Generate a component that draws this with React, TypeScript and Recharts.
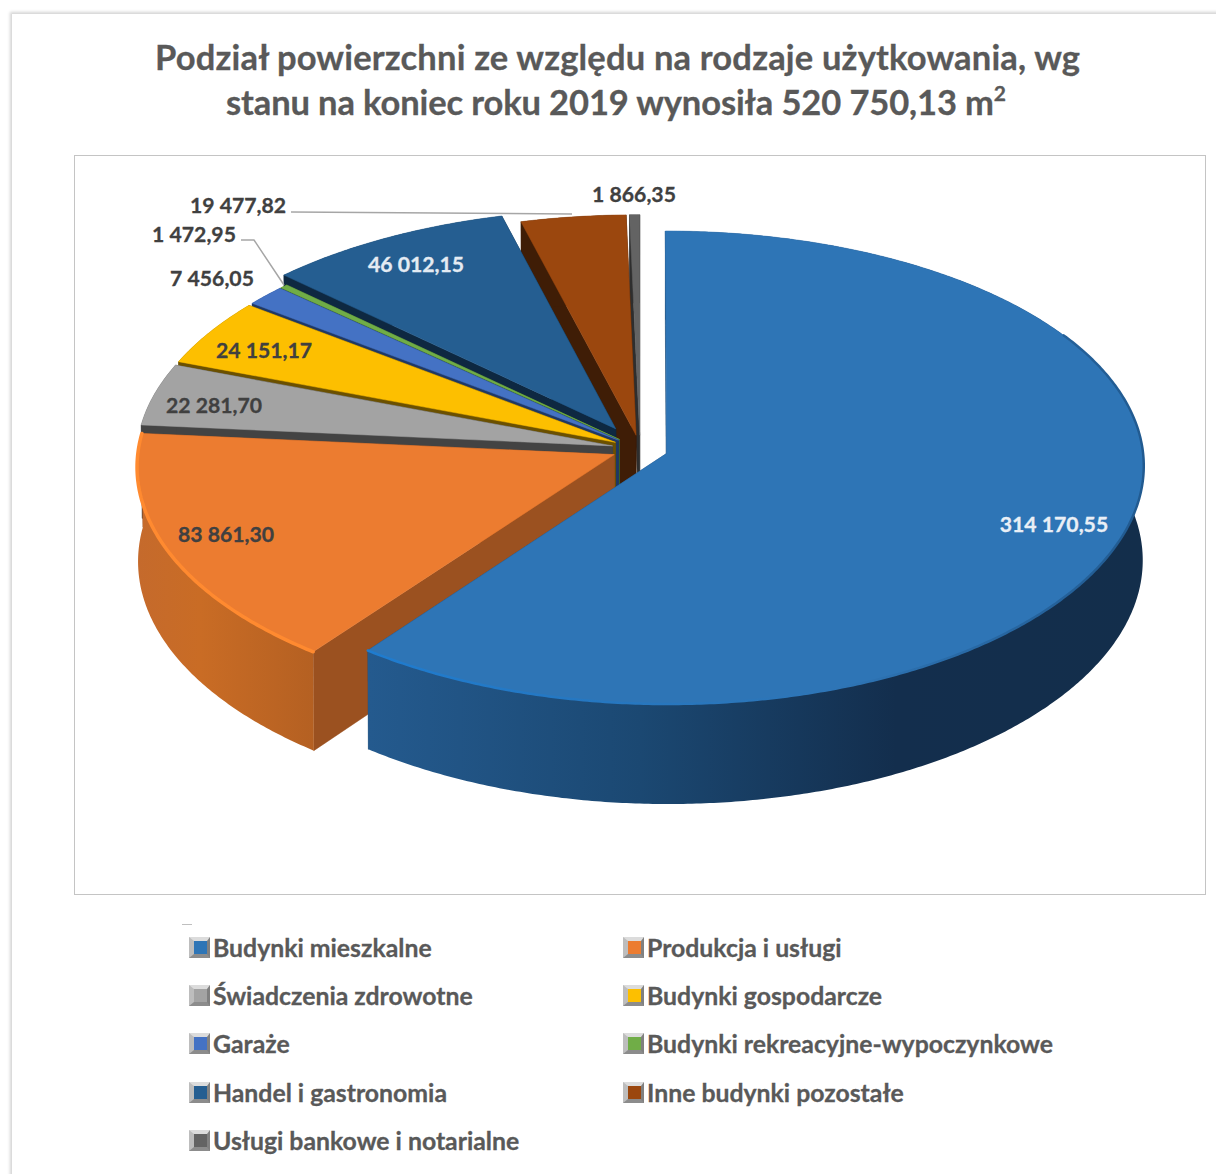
import React from "react";
import { PieChart, Pie, Legend } from "recharts";

const CATEGORIES = [
  "Budynki mieszkalne",
  "Produkcja i usługi",
  "Świadczenia zdrowotne",
  "Budynki gospodarcze",
  "Garaże",
  "Budynki rekreacyjne-wypoczynkowe",
  "Handel i gastronomia",
  "Inne budynki pozostałe",
  "Usługi bankowe i notarialne",
];
const VALUES = [314170.55, 83861.3, 22281.7, 24151.17, 7456.05, 1472.95, 46012.15, 19477.82, 1866.35];
const TOP_COLORS = ["#2e75b6", "#ec7c30", "#a3a3a3", "#fdbf00", "#4472c4", "#70ad47", "#255e91", "#9b470e", "#636363"];
const WALL_COLORS = ["#1d4a75", "#9b5120", "#434343", "#6b5000", "#1f3864", "#3c6324", "#0e2841", "#3f1d06", "#2e2e2e"];
const LABEL_COLORS = ["#e9eff6", "#404040", "#404040", "#404040", "#404040", "#404040", "#e4ebf3", "#404040", "#404040"];
const LABEL_CENTERS = [[1054, 524], [226, 534], [214, 405], [264, 350], [212, 278], [194, 234], [416, 264], [238, 205], [634, 194]];
const EXPLOSIONS = [0.059, 0.059, 0.059, 0.059, 0.059, 0.059, 0.1, 0.059, 0.059];

const TITLE_LINES = [
  "Podział powierzchni ze względu na rodzaje użytkowania, wg",
  "stanu na koniec roku 2019 wynosiła 520 750,13 m",
];
const TITLE_SUP = "2";

const FONT = "Lato, 'Open Sans', sans-serif";
const TILT = 0.494;
const PERSPECTIVE_Y = 0.0594;
const PERSPECTIVE_X = 0.05;
const DEPTH = 94;

// drawn back to front: the pie walks counter-clockwise from 12 o'clock, so the last slice is painted first
const rows = CATEGORIES.map((name, i) => ({ name, value: VALUES[i], fill: TOP_COLORS[i], order: i })).reverse();

const formatValue = (v: number) => {
  const [a, b] = v.toFixed(2).split(".");
  return a.replace(/\B(?=(\d{3})+$)/g, " ") + "," + b;
};

const poly = (pts: number[][]) => pts.map((p, i) => (i ? "L" : "M") + p[0].toFixed(2) + " " + p[1].toFixed(2)).join(" ") + " Z";
const line = (pts: number[][]) => pts.map((p, i) => (i ? "L" : "M") + p[0].toFixed(2) + " " + p[1].toFixed(2)).join(" ");

function Slice3D(props: any) {
  const { cx, cy, outerRadius: R, startAngle, endAngle, payload } = props;
  const order: number = payload?.order ?? props.order;
  const project = (u: number, v: number, down = 0) => {
    const sx = 1 / (1 - PERSPECTIVE_X * v);
    const sy = 1 / (1 - PERSPECTIVE_Y * v);
    return [cx + R * u * sx * (1 - 0.002 * down), cy + R * TILT * v * sy + down * DEPTH * sy];
  };
  const rad = Math.PI / 180;
  const mid = ((startAngle + endAngle) / 2) * rad;
  const explode = EXPLOSIONS[order];
  const u0 = explode * Math.cos(mid);
  const v0 = -explode * Math.sin(mid);
  const steps = Math.max(2, Math.ceil(Math.abs(endAngle - startAngle) * 2));
  const rim: number[][] = [];
  for (let i = 0; i <= steps; i++) {
    const a = (startAngle + ((endAngle - startAngle) * i) / steps) * rad;
    rim.push([u0 + Math.cos(a), v0 - Math.sin(a)]);
  }
  const top = rim.map((p) => project(p[0], p[1]));
  const bottom = rim.map((p) => project(p[0], p[1], 1));
  const apexTop = project(u0, v0);
  const apexBottom = project(u0, v0, 1);
  const wall = WALL_COLORS[order];
  const last = rim.length - 1;
  const gradId = "wall-" + order;
  const hasGrad = order === 0 || order === 1;
  const outerFill = hasGrad ? `url(#${gradId})` : wall;
  const rimFrom = order === 0 ? -0.5 : -0.12;
  const frontRim = top.filter((_, i) => rim[i][1] > rimFrom);
  return (
    <g>
      {order === 0 && (
        <defs>
          <linearGradient id={gradId} gradientUnits="userSpaceOnUse" x1="369" y1="0" x2="1144" y2="0">
            <stop offset="0" stopColor="#245a8e" />
            <stop offset="0.35" stopColor="#1b4872" />
            <stop offset="0.68" stopColor="#132e4d" />
            <stop offset="1" stopColor="#132e4b" />
          </linearGradient>
          <linearGradient id="rim-0" gradientUnits="userSpaceOnUse" x1="369" y1="0" x2="1144" y2="0">
            <stop offset="0" stopColor="#1f7ccf" />
            <stop offset="0.3" stopColor="#2677c0" />
            <stop offset="0.6" stopColor="#2e75b6" />
            <stop offset="1" stopColor="#215a90" />
          </linearGradient>
        </defs>
      )}
      {order === 1 && (
        <defs>
          <linearGradient id={gradId} gradientUnits="userSpaceOnUse" x1="138" y1="0" x2="316" y2="0">
            <stop offset="0" stopColor="#c56a2c" />
            <stop offset="0.35" stopColor="#c96c25" />
            <stop offset="1" stopColor="#b46022" />
          </linearGradient>
        </defs>
      )}
      <path d={poly([apexTop, top[0], bottom[0], apexBottom])} fill={wall} stroke={wall} strokeWidth={0.5} />
      <path d={poly([apexTop, top[last], bottom[last], apexBottom])} fill={wall} stroke={wall} strokeWidth={0.5} />
      <path d={poly([...top, ...bottom.slice().reverse()])} fill={outerFill} stroke="none" />
      <path d={poly([apexTop, ...top])} fill={TOP_COLORS[order]} stroke={TOP_COLORS[order]} strokeWidth={0.5} />
      {hasGrad && frontRim.length > 1 && (
        <path d={line(frontRim)} fill="none" stroke={order === 0 ? "url(#rim-0)" : "#ff8a30"} strokeWidth={order === 0 ? 2.5 : 3.5} strokeLinecap="round" />
      )}
    </g>
  );
}

function SliceLabel(props: any) {
  const order: number = props.payload?.order ?? props.order;
  const [x, y] = LABEL_CENTERS[order];
  return (
    <text x={x} y={y} textAnchor="middle" dominantBaseline="central" fontFamily={FONT} fontWeight={700} fontSize={21.2} fill={LABEL_COLORS[order]} stroke={LABEL_COLORS[order]} strokeWidth={0.3}>
      {formatValue(props.value)}
    </text>
  );
}

function LegendBlock() {
  return (
    <div style={{ position: "absolute", left: 189, top: 923, display: "grid", gridTemplateColumns: "434px 434px", gridAutoRows: "48.4px", fontFamily: FONT, fontWeight: 700, fontSize: 24.8, color: "#595959", WebkitTextStroke: "0.3px #595959" }}>
      {CATEGORIES.map((name, i) => (
        <div key={name} style={{ display: "flex", alignItems: "center", whiteSpace: "nowrap" }}>
          <span style={{ boxSizing: "border-box", width: 21, height: 21, marginRight: 3, borderStyle: "solid", borderWidth: "4px 3px 4px 5px", borderColor: "#dcdcdc #808080 #8c8c8c #bdbdbd", background: TOP_COLORS[i], flex: "none" }} />
          <span>{name}</span>
        </div>
      ))}
    </div>
  );
}

export default function App() {
  const titleProps = { textAnchor: "middle" as const, dominantBaseline: "central" as const, fontFamily: FONT, fontWeight: 700, fontSize: 34.5, fill: "#595959", stroke: "#595959", strokeWidth: 0.3, lengthAdjust: "spacing" as const };
  return (
    <div style={{ position: "absolute", left: 0, top: 0, width: 1216, height: 1174, overflow: "hidden", background: "#fff" }}>
      <div style={{ position: "absolute", left: 12, top: 14, width: 1400, height: 1400, boxShadow: "0 0 3px 2px #d4d4d4", background: "#fff" }} />
      <div style={{ position: "absolute", left: 74, top: 155, width: 1130, height: 738, border: "1px solid #c4c4c4" }} />
      <div style={{ position: "absolute", left: 182, top: 924, width: 10, height: 1, background: "#bfbfbf" }} />
      <div style={{ position: "absolute", left: 0, top: 0 }}>
        <PieChart width={1216} height={1174} margin={{ top: 0, right: 0, bottom: 0, left: 0 }}>
          <text x={617.5} y={56} textLength={925} {...titleProps}>{TITLE_LINES[0]}</text>
          <text x={616} y={101} textLength={780} {...titleProps}>
            {TITLE_LINES[1]}
            <tspan fontSize={21} dy={-9}>{TITLE_SUP}</tspan>
          </text>
          <Pie
            data={rows}
            dataKey="value"
            nameKey="name"
            cx={640}
            cy={449}
            innerRadius={0}
            outerRadius={476}
            startAngle={90}
            endAngle={450}
            isAnimationActive={false}
            shape={Slice3D}
            activeShape={Slice3D}
            inactiveShape={Slice3D}
            label={SliceLabel}
            labelLine={false}
            stroke="none"
          />
          <Legend content={LegendBlock} wrapperStyle={{ position: "absolute", left: 0, top: 0, width: 0, height: 0 }} />
        </PieChart>
      </div>
      <svg width={1216} height={1174} style={{ position: "absolute", left: 0, top: 0, pointerEvents: "none" }}>
        <path d="M291 212 L572 214" fill="none" stroke="#a6a6a6" strokeWidth={1.5} />
        <path d="M241 240 L254 240 L284 285" fill="none" stroke="#a6a6a6" strokeWidth={1.5} />
      </svg>
    </div>
  );
}
